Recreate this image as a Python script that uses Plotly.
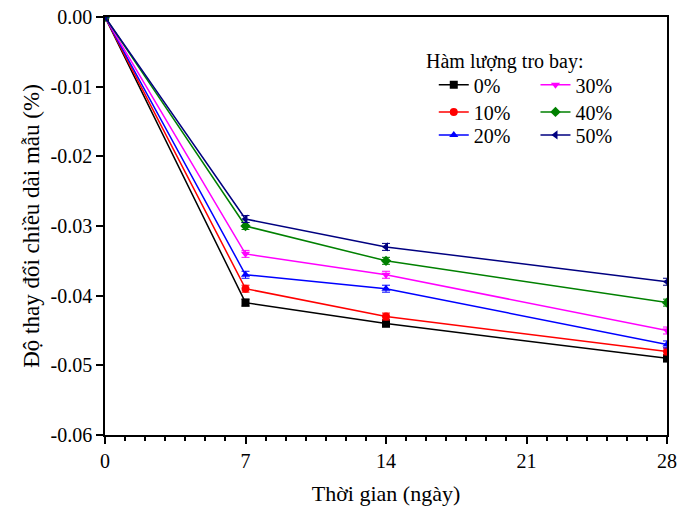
import plotly.graph_objects as go

days = [0, 7, 14, 28]
series_names = ["0%", "10%", "20%", "30%", "40%", "50%"]
v0 = [0.0, -0.041, -0.044, -0.049]
v10 = [0.0, -0.039, -0.043, -0.048]
v20 = [0.0, -0.037, -0.039, -0.047]
v30 = [0.0, -0.034, -0.037, -0.045]
v40 = [0.0, -0.030, -0.035, -0.041]
v50 = [0.0, -0.029, -0.033, -0.038]
err = [0.0, 0.0005, 0.0005, 0.0005]
values = [v0, v10, v20, v30, v40, v50]
colors = ["#000000", "#ff0000", "#0000ff", "#ff00ff", "#008000", "#000080"]
symbols = ["square", "circle", "triangle-up", "triangle-down", "diamond", "triangle-left"]
x_ticks = [0, 7, 14, 21, 28]
y_ticks = [0.0, -0.01, -0.02, -0.03, -0.04, -0.05, -0.06]
y_ticktext = ["0.00", "-0.01", "-0.02", "-0.03", "-0.04", "-0.05", "-0.06"]
legend_title = "Hàm lượng tro bay:"

# legend placement (paper coords): one legend per entry, two columns
legend_ids = ["legend", "legend2", "legend3", "legend4", "legend5", "legend6"]
legend_x = [0.585, 0.585, 0.585, 0.766, 0.766, 0.766]
legend_y = [0.838, 0.773, 0.718, 0.838, 0.773, 0.718]

F = "Liberation Serif, Times New Roman, serif"
fig = go.Figure()
for name, vals, c, s, lg in zip(series_names, values, colors, symbols, legend_ids):
    fig.add_trace(go.Scatter(
        x=days, y=vals, name=name, mode="lines+markers",
        line=dict(color=c, width=1.5),
        marker=dict(symbol=s, size=8, color=c),
        error_y=dict(type="data", array=err, color=c, thickness=1, width=4),
        legend=lg,
    ))

layout_legends = {}
for lg, lx, ly in zip(legend_ids, legend_x, legend_y):
    layout_legends[lg] = dict(
        x=lx, y=ly, xanchor="left", yanchor="middle",
        bgcolor="rgba(0,0,0,0)", font=dict(size=20, family=F, color="black"),
        borderwidth=0, itemwidth=30,
    )

fig.update_layout(
    width=688, height=506,
    margin=dict(l=105, r=21, t=17, b=71, autoexpand=False),
    paper_bgcolor="white", plot_bgcolor="white",
    font=dict(family=F, size=20, color="black"),
    showlegend=True,
    **layout_legends,
)
fig.add_annotation(
    text=legend_title, xref="paper", yref="paper",
    x=0.5676, y=0.893, xanchor="left", yanchor="middle", showarrow=False,
    font=dict(family=F, size=20, color="black"),
)
fig.update_xaxes(
    range=[0, 28], tickvals=x_ticks, ticktext=[str(t) for t in x_ticks],
    ticks="outside", ticklen=7, tickwidth=1.5, tickcolor="black",
    minor=dict(dtick=1, ticks="outside", ticklen=4, tickwidth=1.5, tickcolor="black"),
    showline=True, linecolor="black", linewidth=1.5, mirror=True,
    showgrid=False, zeroline=False, automargin=False,
    tickfont=dict(family=F, size=20, color="black"),
    title=dict(text="Thời gian (ngày)", font=dict(family=F, size=22, color="black"), standoff=18),
)
fig.update_yaxes(
    range=[-0.06, 0.0], tickvals=y_ticks, ticktext=y_ticktext,
    ticks="outside", ticklen=7, tickwidth=1.5, tickcolor="black",
    showline=True, linecolor="black", linewidth=1.5, mirror=True,
    showgrid=False, zeroline=False, automargin=False,
    tickfont=dict(family=F, size=20, color="black"),
    title=dict(text="Độ thay đổi chiều dài mẫu (%)", font=dict(family=F, size=23, color="black"), standoff=5),
)
fig.write_html("out.html")
